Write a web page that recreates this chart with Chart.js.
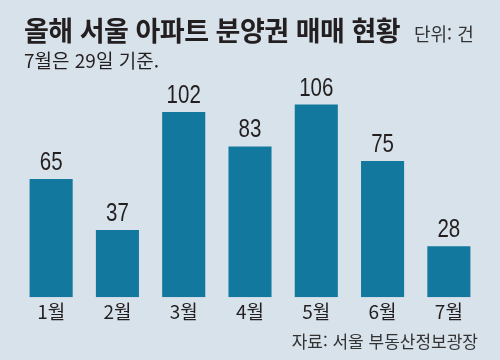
<!DOCTYPE html>
<html lang="ko">
<head>
<meta charset="utf-8">
<script src="https://cdn.jsdelivr.net/npm/chart.js@4"></script>
<style>
  html, body { margin: 0; padding: 0; background: #d8e2ea; }
  #wrap { position: relative; width: 500px; height: 360px; overflow: hidden; }
  #chart { position: absolute; left: 0; top: 0; }
  .txt { position: absolute; font-family: "Noto Sans CJK KR", sans-serif; color: #231f20; white-space: nowrap; line-height: 1; }
  #title { left: 24px; top: 16px; font-size: 27px; font-weight: 700; letter-spacing: -0.5px; }
  #unit { left: 414px; top: 24px; font-size: 18px; color: #333; }
  #sub { left: 24px; top: 50px; font-size: 19px; }
  #src { right: 22px; top: 332px; font-size: 17px; color: #333; }
</style>
</head>
<body>
<div id="wrap">
  <canvas id="chart" width="500" height="360"></canvas>
  <div class="txt" id="title">올해 서울 아파트 분양권 매매 현황</div>
  <div class="txt" id="unit">단위: 건</div>
  <div class="txt" id="sub">7월은 29일 기준.</div>
  <div class="txt" id="src">자료: 서울 부동산정보광장</div>
</div>
<script>
const months = ["1월", "2월", "3월", "4월", "5월", "6월", "7월"];
const deals = [65, 37, 102, 83, 106, 75, 28];

const barColor = "#13789e";

// numbers above each bar, squeezed a bit like the print font
const valueLabels = {
  id: "valueLabels",
  afterDatasetsDraw(chart) {
    const ctx = chart.ctx;
    const meta = chart.getDatasetMeta(0);
    meta.data.forEach((bar, i) => {
      ctx.save();
      ctx.fillStyle = "#231f20";
      ctx.font = '25px "Liberation Sans", sans-serif';
      ctx.textAlign = "center";
      ctx.textBaseline = "alphabetic";
      ctx.translate(bar.x, bar.y - 9);
      ctx.scale(0.82, 1);
      ctx.fillText(String(deals[i]), 0, 0);
      ctx.restore();
    });
  }
};

new Chart(document.getElementById("chart"), {
  type: "bar",
  data: {
    labels: months,
    datasets: [{
      data: deals,
      backgroundColor: barColor,
      borderWidth: 0,
      barPercentage: 0.65,
      categoryPercentage: 1
    }]
  },
  options: {
    responsive: false,
    animation: false,
    layout: { padding: { left: 18, right: 18, top: 81, bottom: 34 } },
    plugins: { legend: { display: false }, tooltip: { enabled: false } },
    scales: {
      x: {
        grid: { display: false, drawTicks: false },
        border: { display: false },
        ticks: {
          color: "#231f20",
          padding: 3,
          font: { family: '"Noto Sans CJK KR", sans-serif', size: 19 }
        }
      },
      y: {
        display: false,
        min: 0,
        max: 119
      }
    }
  },
  plugins: [valueLabels]
});
</script>
</body>
</html>
